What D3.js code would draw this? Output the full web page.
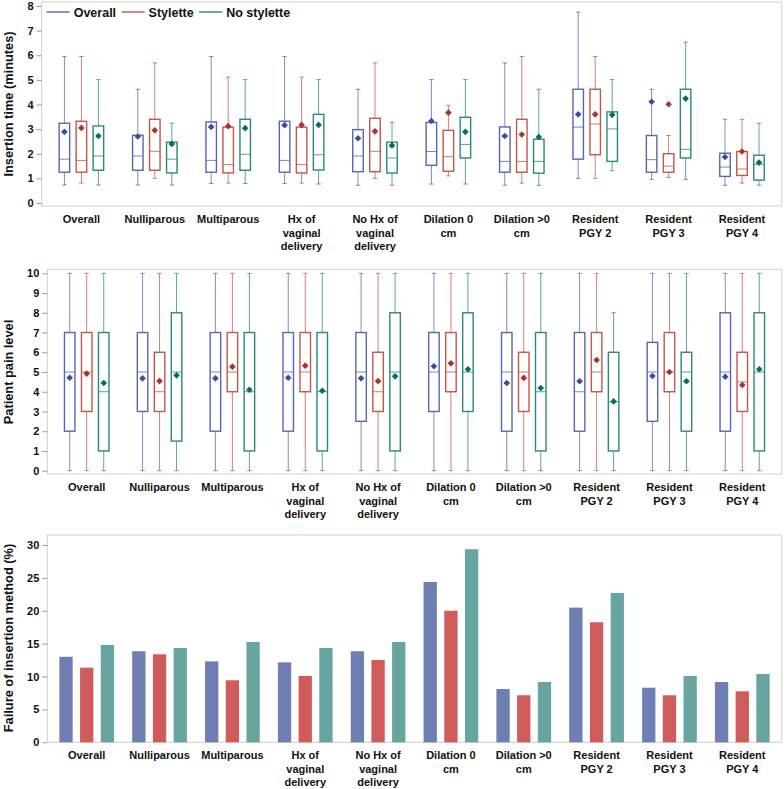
<!DOCTYPE html>
<html>
<head>
<meta charset="utf-8">
<script src="https://cdn.jsdelivr.net/npm/d3@7"></script>
<style>
  body { margin: 0; background: #fff; }
  svg { display: block; font-family: "Liberation Sans", Arial, sans-serif; }
  .tick text { font-size: 11px; font-weight: bold; fill: #111; }
  .tick line { stroke: #9a9a9a; }
</style>
</head>
<body>
<svg width="784" height="789"></svg>
<script>
// Categories (x axis)
var categories = [
  'Overall', 'Nulliparous', 'Multiparous', 'Hx of\nvaginal\ndelivery',
  'No Hx of\nvaginal\ndelivery', 'Dilation 0\ncm', 'Dilation >0\ncm',
  'Resident\nPGY 2', 'Resident\nPGY 3', 'Resident\nPGY 4'
];

// Series
var seriesNames = ['Overall', 'Stylette', 'No stylette'];
var lineColors = ['#5866b0', '#c4564a', '#2a887a'];
var meanColors = ['#3d4b9e', '#a8352d', '#0b6b5f'];
var barColors = ['#6f7eb3', '#d05b5b', '#66a5a0'];

// Insertion time (minutes): [min, q1, median, q3, max]
var timeOverall = [[0.73,1.25,1.78,3.24,5.95],[0.73,1.33,1.91,2.75,4.62],[0.79,1.25,1.73,3.29,5.95],[0.79,1.25,1.73,3.32,5.95],[0.72,1.27,1.91,2.98,4.62],[0.77,1.53,2.09,3.27,5.01],[0.72,1.25,1.69,3.09,5.69],[1.0,1.78,3.08,4.62,7.75],[0.96,1.25,1.76,2.74,4.62],[0.72,1.08,1.46,2.02,3.4]];
var timeStylette = [[0.81,1.25,1.73,3.32,5.95],[1.0,1.33,2.1,3.4,5.69],[0.81,1.22,1.56,3.08,5.11],[0.81,1.22,1.56,3.08,5.11],[1.0,1.27,2.1,3.44,5.69],[1.1,1.29,1.88,2.95,3.97],[0.81,1.25,1.69,3.4,5.95],[1.0,1.96,3.21,4.62,5.95],[1.04,1.25,1.5,2.0,2.74],[0.81,1.12,1.38,2.09,3.4]];
var timeNoStylette = [[0.73,1.33,1.91,3.13,5.01],[0.73,1.22,1.78,2.47,3.24],[0.79,1.33,1.98,3.4,5.01],[0.77,1.34,1.96,3.6,5.01],[0.72,1.22,1.83,2.47,3.28],[0.77,1.83,2.38,3.48,5.01],[0.72,1.21,1.69,2.59,4.62],[1.31,1.69,3.01,3.7,5.01],[0.96,1.83,2.18,4.62,6.53],[0.72,0.93,1.57,1.94,3.24]];
var timeOverallMean = [2.89,2.70,3.09,3.16,2.63,3.33,2.72,3.6,4.11,1.87];
var timeStyletteMean = [3.05,2.95,3.12,3.17,2.91,3.67,2.78,3.6,4.01,2.09];
var timeNoStyletteMean = [2.72,2.4,3.04,3.17,2.34,2.89,2.68,3.58,4.24,1.64];

// Patient pain level: [min, q1, median, q3, max]
var painOverall = [[0,2,5,7,10],[0,3,5,7,10],[0,2,5,7,10],[0,2,5,7,10],[0,2.5,5,7,10],[0,3,5,7,10],[0,2,5,7,10],[0,2,4,7,10],[0,2.5,5,6.5,10],[0,2,5,8,10]];
var painStylette = [[0,3,5,7,10],[0,3,4,6,10],[0,4,5,7,10],[0,4,5,7,10],[0,3,4,6,10],[0,4,5,7,10],[0,3,5,6,10],[0,4,5,7,10],[0,4,5,7,10],[0,3,4.5,6,10]];
var painNoStylette = [[0,1,4,7,10],[0,1.5,5,8,10],[0,1,4,7,10],[0,1,4,7,10],[0,1,5,8,10],[0,3,5,8,10],[0,1,4,7,10],[0,1,3.5,6,8],[0,2,5,6,10],[0,1,5,8,10]];
var painOverallMean = [4.71,4.68,4.68,4.71,4.68,5.29,4.44,4.53,4.8,4.76];
var painStyletteMean = [4.92,4.54,5.27,5.32,4.54,5.44,4.7,5.61,5.0,4.34];
var painNoStyletteMean = [4.44,4.83,4.1,4.05,4.78,5.14,4.19,3.51,4.53,5.14];

// Failure of insertion method (%)
var failOverall = [13.0,13.84,12.3,12.16,13.84,24.38,8.1,20.48,8.3,9.17];
var failStylette = [11.35,13.38,9.43,10.08,12.52,20.0,7.15,18.25,7.15,7.75];
var failNoStylette = [14.8,14.34,15.25,14.34,15.25,29.35,9.17,22.7,10.09,10.39];

// Tick values
var timeTicks = [0,1,2,3,4,5,6,7,8];
var painTicks = [0,1,2,3,4,5,6,7,8,9,10];
var failTicks = [0,5,10,15,20,25,30];

var svg = d3.select('svg');

// Draws frame, y axis, category labels and y title of one panel
function setupPanel(p) {
  var g = svg.append('g');
  g.append('rect')
      .attr('x', p.left).attr('y', p.top)
      .attr('width', p.right - p.left).attr('height', p.bottom - p.top)
      .attr('fill', 'none').attr('stroke', '#cfcfcf');

  var x = d3.scaleBand().domain(categories).range([p.left + 3, p.right - 3]);
  var y = d3.scaleLinear().domain(p.domain).range([p.y0, p.y1]);

  var axis = g.append('g')
      .attr('transform', 'translate(' + p.left + ',0)')
      .call(d3.axisLeft(y).tickValues(p.ticks).tickSize(5).tickPadding(3));
  axis.select('.domain').remove();

  // category labels
  categories.forEach(function(c) {
    var t = g.append('text')
        .attr('text-anchor', 'middle')
        .attr('font-size', 11).attr('font-weight', 'bold').attr('fill', '#111');
    c.split('\n').forEach(function(line, i) {
      t.append('tspan')
          .attr('x', x(c) + x.bandwidth() / 2)
          .attr('y', p.bottom + 17 + i * 13.5)
          .text(line);
    });
  });

  g.append('text')
      .attr('transform', 'translate(' + p.titleX + ',' + p.titleY + ') rotate(-90)')
      .attr('text-anchor', 'middle')
      .attr('dy', '0.35em')
      .attr('font-size', 12.8).attr('font-weight', 'bold').attr('fill', '#111')
      .text(p.title);

  return { g: g, x: x, y: y };
}

// Box plot panel
function drawBoxes(panel, stats, means) {
  var x = panel.x, y = panel.y;
  var off = d3.scalePoint().domain(seriesNames).range([-17, 17]);
  var bw = 10.5, cap = 4.5;

  seriesNames.forEach(function(s, si) {
    var col = lineColors[si];
    categories.forEach(function(c, ci) {
      var d = stats[si][ci];
      var cx = x(c) + x.bandwidth() / 2 + off(s);
      var g = panel.g.append('g');
      // whiskers
      g.append('line').attr('x1', cx).attr('x2', cx)
          .attr('y1', y(d[0])).attr('y2', y(d[1]))
          .attr('stroke', col).attr('stroke-opacity', 0.75).attr('stroke-width', 1);
      g.append('line').attr('x1', cx).attr('x2', cx)
          .attr('y1', y(d[3])).attr('y2', y(d[4]))
          .attr('stroke', col).attr('stroke-opacity', 0.75).attr('stroke-width', 1);
      [d[0], d[4]].forEach(function(v) {
        g.append('line').attr('x1', cx - cap / 2).attr('x2', cx + cap / 2)
            .attr('y1', y(v)).attr('y2', y(v))
            .attr('stroke', col).attr('stroke-opacity', 0.75).attr('stroke-width', 1);
      });
      // box
      g.append('rect')
          .attr('x', cx - bw / 2).attr('y', y(d[3]))
          .attr('width', bw).attr('height', y(d[1]) - y(d[3]))
          .attr('fill', 'none').attr('stroke', col).attr('stroke-width', 1.4);
      // median
      g.append('line').attr('x1', cx - bw / 2).attr('x2', cx + bw / 2)
          .attr('y1', y(d[2])).attr('y2', y(d[2]))
          .attr('stroke', col).attr('stroke-opacity', 0.8).attr('stroke-width', 1);
      // mean
      g.append('path')
          .attr('d', d3.symbol(d3.symbolSquare, 22)())
          .attr('transform', 'translate(' + cx + ',' + y(means[si][ci]) + ') rotate(45)')
          .attr('fill', meanColors[si]);
    });
  });
}

// Top panel: insertion time
var timePanel = setupPanel({
  left: 41.7, right: 781.7, top: 2, bottom: 206,
  domain: [0, 8], y0: 203, y1: 6, ticks: timeTicks,
  title: 'Insertion time (minutes)', titleX: 9, titleY: 104
});
drawBoxes(timePanel, [timeOverall, timeStylette, timeNoStylette],
  [timeOverallMean, timeStyletteMean, timeNoStyletteMean]);

// legend
var lx = 46.7;
seriesNames.forEach(function(s, i) {
  timePanel.g.append('line')
      .attr('x1', lx).attr('x2', lx + 23).attr('y1', 12).attr('y2', 12)
      .attr('stroke', lineColors[i]).attr('stroke-width', 1.4);
  var t = timePanel.g.append('text')
      .attr('x', lx + 27).attr('y', 12).attr('dy', '0.36em')
      .attr('font-size', 12.5).attr('font-weight', 'bold').attr('fill', '#111')
      .text(s);
  lx += 27 + t.node().getComputedTextLength() + 5.5;
});

// Middle panel: pain level
var painPanel = setupPanel({
  left: 47.3, right: 781.7, top: 269.3, bottom: 474,
  domain: [0, 10], y0: 470.7, y1: 273.3, ticks: painTicks,
  title: 'Patient pain level', titleX: 9, titleY: 372
});
drawBoxes(painPanel, [painOverall, painStylette, painNoStylette],
  [painOverallMean, painStyletteMean, painNoStyletteMean]);

// Bottom panel: failure bars
var failPanel = setupPanel({
  left: 47.3, right: 781.7, top: 535, bottom: 742.3,
  domain: [0, 30], y0: 742.3, y1: 545, ticks: failTicks,
  title: 'Failure of insertion method (%)', titleX: 9, titleY: 638
});
var failSeries = [failOverall, failStylette, failNoStylette];
var barOff = d3.scalePoint().domain(seriesNames).range([-20.7, 20.7]);
var barW = 13.3;
seriesNames.forEach(function(s, si) {
  failPanel.g.append('g').selectAll('rect')
    .data(categories)
    .enter().append('rect')
      .attr('x', function(c) { return failPanel.x(c) + failPanel.x.bandwidth() / 2 + barOff(s) - barW / 2; })
      .attr('y', function(c, i) { return failPanel.y(failSeries[si][i]); })
      .attr('width', barW)
      .attr('height', function(c, i) { return failPanel.y(0) - failPanel.y(failSeries[si][i]); })
      .attr('fill', barColors[si]);
});
</script>
</body>
</html>
